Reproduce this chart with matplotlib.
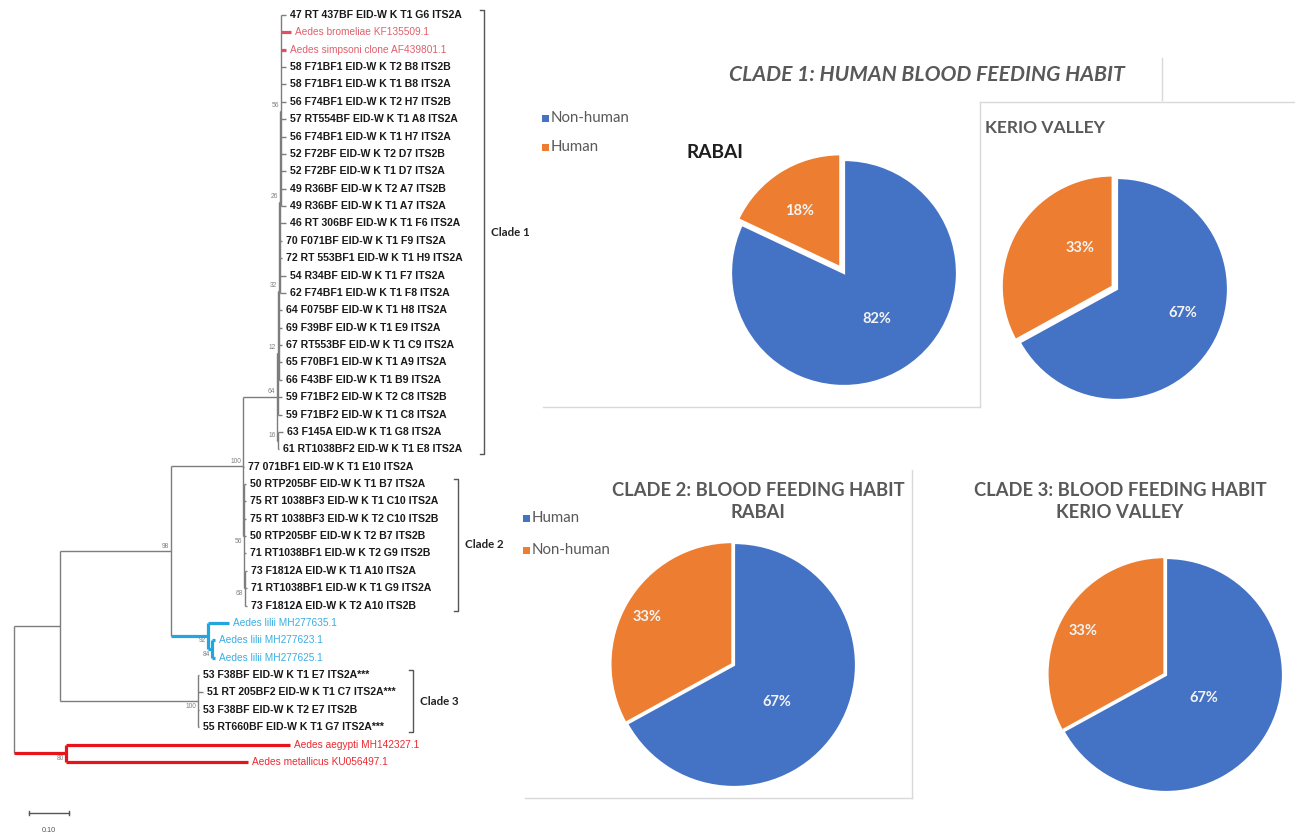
import matplotlib
matplotlib.use("Agg")
import matplotlib.pyplot as plt
from matplotlib.patches import Rectangle

# ---------------------------------------------------------------- data
taxa = [
    "47 RT 437BF EID-W K T1 G6 ITS2A",
    "Aedes bromeliae KF135509.1",
    "Aedes simpsoni clone AF439801.1",
    "58 F71BF1 EID-W K T2 B8 ITS2B",
    "58 F71BF1 EID-W K T1 B8 ITS2A",
    "56 F74BF1 EID-W K T2 H7 ITS2B",
    "57 RT554BF EID-W K T1 A8 ITS2A",
    "56 F74BF1 EID-W K T1 H7 ITS2A",
    "52 F72BF EID-W K T2 D7 ITS2B",
    "52 F72BF EID-W K T1 D7 ITS2A",
    "49 R36BF EID-W K T2 A7 ITS2B",
    "49 R36BF EID-W K T1 A7 ITS2A",
    "46 RT 306BF EID-W K T1 F6 ITS2A",
    "70 F071BF EID-W K T1 F9 ITS2A",
    "72 RT 553BF1 EID-W K T1 H9 ITS2A",
    "54 R34BF EID-W K T1 F7 ITS2A",
    "62 F74BF1 EID-W K T1 F8 ITS2A",
    "64 F075BF EID-W K T1 H8 ITS2A",
    "69 F39BF EID-W K T1 E9 ITS2A",
    "67 RT553BF EID-W K T1 C9 ITS2A",
    "65 F70BF1 EID-W K T1 A9 ITS2A",
    "66 F43BF EID-W K T1 B9 ITS2A",
    "59 F71BF2 EID-W K T2 C8 ITS2B",
    "59 F71BF2 EID-W K T1 C8 ITS2A",
    "63 F145A EID-W K T1 G8 ITS2A",
    "61 RT1038BF2 EID-W K T1 E8 ITS2A",
    "77 071BF1 EID-W K T1 E10 ITS2A",
    "50 RTP205BF EID-W K T1 B7 ITS2A",
    "75 RT 1038BF3 EID-W K T1 C10 ITS2A",
    "75 RT 1038BF3 EID-W K T2 C10 ITS2B",
    "50 RTP205BF EID-W K T2 B7 ITS2B",
    "71 RT1038BF1 EID-W K T2 G9 ITS2B",
    "73 F1812A EID-W K T1 A10 ITS2A",
    "71 RT1038BF1 EID-W K T1 G9 ITS2A",
    "73 F1812A EID-W K T2 A10 ITS2B",
    "Aedes lilii MH277635.1",
    "Aedes lilii MH277623.1",
    "Aedes lilii MH277625.1",
    "53 F38BF EID-W K T1 E7 ITS2A***",
    "51 RT 205BF2 EID-W K T1 C7 ITS2A***",
    "53 F38BF EID-W K T2 E7 ITS2B",
    "55 RT660BF EID-W K T1 G7 ITS2A***",
    "Aedes aegypti MH142327.1",
    "Aedes metallicus KU056497.1",
]

# reference sequences (everything else is a field sample)
reference_kind = {1: "pink", 2: "pink", 35: "blue", 36: "blue", 37: "blue",
                  42: "red", 43: "red"}

# tree topology: leaves are indices into `taxa`, internal labels are bootstrap values
newick = (
    "(((((((((0:0.0125,1:0.025,2:0.0125,3:0.0125,4:0.0125,5:0.0125,6:0.0125,"
    "7:0.0125,8:0.0125,9:0.0125,10:0.0125,11:0.0125)56:0.0025,12:0.015,13:0.005,"
    "14:0.005,15:0.015,16:0.015)26:0.0025,17:0.0075,18:0.0075,19:0.0075,20:0.0075,"
    "21:0.0075)32:0.0025,22:0.01,23:0.01)12:0.0025,(24:0.0125,25:0.0025)16:0.0025)64:0.085,"
    "26:0.0025,(27:0.005,28:0.005,29:0.005,30:0.005,31:0.005,(32:0.005,33:0.005,"
    "34:0.005)68:0.0025)56:0.0025)100:0.18,(35:0.0525,(36:0.0075,37:0.0075)84:0.01)92:0.0925)"
    "98:0.2775,(38:0.0025,39:0.0125,40:0.0025,41:0.0025)100:0.345):0.115,"
    "(42:0.56,43:0.455)80:0.13);"
)
scale_bar_length = 0.10

clade_names = ["Clade 1", "Clade 2", "Clade 3"]
clade_spans = [(0, 25), (27, 34), (38, 41)]

# blood-meal source shares (%)
c1_labels = ["Non-human", "Human"]
c1_rabai = [82, 18]
c1_kerio = [67, 33]
c23_labels = ["Human", "Non-human"]
c2_rabai = [67, 33]
c3_kerio = [67, 33]

# ---------------------------------------------------------------- figure
W, H = 1295, 836
fig = plt.figure(figsize=(W / 100, H / 100), dpi=100)
fig.patch.set_facecolor("white")

# pixel canvas for panel frames and headings
cv = fig.add_axes([0, 0, 1, 1])
cv.set_xlim(0, W)
cv.set_ylim(H, 0)
cv.axis("off")

# ---------------------------------------------------------------- tree
X0_PX, UNIT_PX = 14, 400.0       # root position and pixels per substitution/site
Y0_PX, ROW_PX = 15, 17.37        # first row and row pitch

tr = fig.add_axes([0, 0, 1, 1])
tr.set_xlim(-X0_PX / UNIT_PX, (W - X0_PX) / UNIT_PX)
tr.set_ylim((H - Y0_PX) / ROW_PX, -Y0_PX / ROW_PX)
tr.axis("off")
tr.patch.set_alpha(0)


def px(n):
    return n / UNIT_PX


def rows(n):
    return n / ROW_PX


def parse_newick(s):
    s = s.strip()
    pos = 0

    def node():
        nonlocal pos
        children = []
        if s[pos] == "(":
            pos += 1
            children.append(node())
            while s[pos] == ",":
                pos += 1
                children.append(node())
            pos += 1
        start = pos
        while s[pos] not in ":,);":
            pos += 1
        name = s[start:pos]
        length = 0.0
        if s[pos] == ":":
            pos += 1
            start = pos
            while s[pos] not in ",);":
                pos += 1
            length = float(s[start:pos])
        return {"name": name, "len": length, "children": children}

    return node()


def layout(n, x_parent):
    n["x"] = x_parent + n["len"]
    if n["children"]:
        for c in n["children"]:
            layout(c, n["x"])
        n["y"] = (n["children"][0]["y"] + n["children"][-1]["y"]) / 2
        n["leaves"] = [i for c in n["children"] for i in c["leaves"]]
    else:
        n["y"] = int(n["name"])
        n["leaves"] = [int(n["name"])]


GREY = "#7d7d7d"
KIND_LINE = {"pink": "#e0505e", "blue": "#23a6df", "red": "#e8141c"}
KIND_TEXT = {"pink": "#e0606c", "blue": "#3aaee3", "red": "#ec2a30"}
LABEL_GAP = px(4)
below_labels = {35, 36, 38, 27, 32, 42}   # first leaf of nodes whose support sits below


def branch_color(n):
    kinds = {reference_kind.get(i, "sample") for i in n["leaves"]}
    if len(kinds) == 1:
        k = kinds.pop()
        if k != "sample":
            return KIND_LINE[k]
    return GREY


def draw(n, x_parent, is_root=False):
    col = branch_color(n)
    lw = 2.3 if col != GREY else 1.0
    if not is_root:
        tr.plot([x_parent, n["x"]], [n["y"], n["y"]], color=col, lw=lw,
                solid_capstyle="butt")
    if n["children"]:
        tr.plot([n["x"], n["x"]], [n["children"][0]["y"], n["children"][-1]["y"]],
                color=col, lw=lw, solid_capstyle="butt")
        for c in n["children"]:
            draw(c, n["x"])
        if n["name"]:
            below = n["leaves"][0] in below_labels
            tr.text(n["x"] - px(2), n["y"] + (rows(1.5) if below else -rows(1.5)),
                    n["name"], ha="right", va="top" if below else "bottom",
                    fontsize=4.8, color="#808080", family="Liberation Sans")
    else:
        i = int(n["name"])
        kind = reference_kind.get(i)
        if kind is None:
            tr.text(n["x"] + LABEL_GAP, n["y"], taxa[i], ha="left", va="center",
                    fontsize=7.6, fontweight="bold", color="#1a1a1a",
                    family="Liberation Sans")
        else:
            tr.text(n["x"] + LABEL_GAP, n["y"], taxa[i], ha="left", va="center",
                    fontsize=7.3, color=KIND_TEXT[kind], family="Liberation Sans")


root = parse_newick(newick)
layout(root, 0.0)
draw(root, 0.0, is_root=True)

# clade brackets
bracket_x = [px(484 - X0_PX), px(458 - X0_PX), px(413 - X0_PX)]
for name, (a, b), bx in zip(clade_names, clade_spans, bracket_x):
    y0, y1 = a - 0.3, b + 0.3
    tr.plot([bx - px(4), bx, bx, bx - px(4)], [y0, y0, y1, y1],
            color="#555555", lw=1.0)
    tr.text(bx + px(7), (y0 + y1) / 2, name, ha="left", va="center",
            fontsize=8.3, fontweight="bold", color="#222222", family="Lato")

# scale bar
sb_x, sb_y = px(29 - X0_PX), rows(813 - Y0_PX)
tr.plot([sb_x, sb_x + scale_bar_length], [sb_y, sb_y], color="#555555", lw=1.0)
for xx in (sb_x, sb_x + scale_bar_length):
    tr.plot([xx, xx], [sb_y - rows(2.5), sb_y + rows(2.5)], color="#555555", lw=1.0)
tr.text(sb_x + scale_bar_length / 2, rows(831 - Y0_PX), f"{scale_bar_length:.2f}",
        ha="center", va="center", fontsize=5.2, color="#555555",
        family="Liberation Sans")

# ---------------------------------------------------------------- pies
BLUE, ORANGE = "#4472c4", "#ed7d31"
HEAD = "#595959"


def draw_pie(values, cx, cy, r, explode, text_xy):
    m = 1.3
    ax = fig.add_axes([(cx - m * r) / W, 1 - (cy + m * r) / H,
                       2 * m * r / W, 2 * m * r / H])
    wedges, _, autotexts = ax.pie(
        values, colors=[BLUE, ORANGE], startangle=90, counterclock=False,
        explode=explode, radius=1.0, autopct=lambda p: f"{p:.0f}%",
        wedgeprops=dict(edgecolor="white", linewidth=1.6),
        textprops=dict(color="#f4f4f4", fontsize=10.5, fontweight="bold",
                       family="Lato"))
    for t, xy in zip(autotexts, text_xy):
        t.set_position(xy)
    ax.set_xlim(-m, m)
    ax.set_ylim(-m, m)
    ax.set_aspect("equal")
    ax.axis("off")
    return wedges


draw_pie(c1_rabai, 844, 273, 113, [0, 0.06], [(0.29, -0.41), (-0.39, 0.55)])
draw_pie(c1_kerio, 1117, 289, 111, [0, 0.045], [(0.59, -0.22), (-0.33, 0.37)])
draw_pie(c2_rabai, 734, 665, 122, [0, 0.015], [(0.35, -0.30), (-0.71, 0.39)])
draw_pie(c3_kerio, 1166, 675, 117, [0, 0.015], [(0.32, -0.20), (-0.71, 0.38)])

# legends
def draw_legend(x, ys, labels):
    for y, lab, col in zip(ys, labels, [BLUE, ORANGE]):
        cv.add_patch(Rectangle((x, y - 3.5), 7, 7, color=col, lw=0))
        cv.text(x + 9, y, lab, ha="left", va="center", fontsize=10.8,
                color=HEAD, family="Lato")


draw_legend(542, [118, 147], c1_labels)
draw_legend(523, [518, 550], c23_labels)

# headings
cv.text(927, 75, "CLADE 1: HUMAN BLOOD FEEDING HABIT", ha="center", va="center",
        fontsize=15.2, fontweight="bold", fontstyle="italic", color=HEAD,
        family="Lato")
cv.text(686, 152, "RABAI", ha="left", va="center", fontsize=13.8,
        fontweight="bold", color="#1e1e1e", family="Lato")
cv.text(985, 128, "KERIO VALLEY", ha="left", va="center", fontsize=12.5,
        fontweight="bold", color=HEAD, family="Lato")
cv.text(758, 490, "CLADE 2: BLOOD FEEDING HABIT", ha="center", va="center",
        fontsize=13.2, fontweight="bold", color=HEAD, family="Lato")
cv.text(758, 512, "RABAI", ha="center", va="center",
        fontsize=13.2, fontweight="bold", color=HEAD, family="Lato")
cv.text(1120, 490, "CLADE 3: BLOOD FEEDING HABIT", ha="center", va="center",
        fontsize=13.2, fontweight="bold", color=HEAD, family="Lato")
cv.text(1120, 512, "KERIO VALLEY", ha="center", va="center",
        fontsize=13.2, fontweight="bold", color=HEAD, family="Lato")

# panel frames
FRAME = "#d9d9d9"
for xs, ys in [([1162, 1162], [58, 100]),
               ([980, 1295], [102, 102]),
               ([980, 980], [102, 407]),
               ([543, 980], [407, 407]),
               ([912, 912], [470, 798]),
               ([525, 912], [798, 798])]:
    cv.plot(xs, ys, color=FRAME, lw=1.0)

fig.savefig("out.png", dpi=100, facecolor="white")
